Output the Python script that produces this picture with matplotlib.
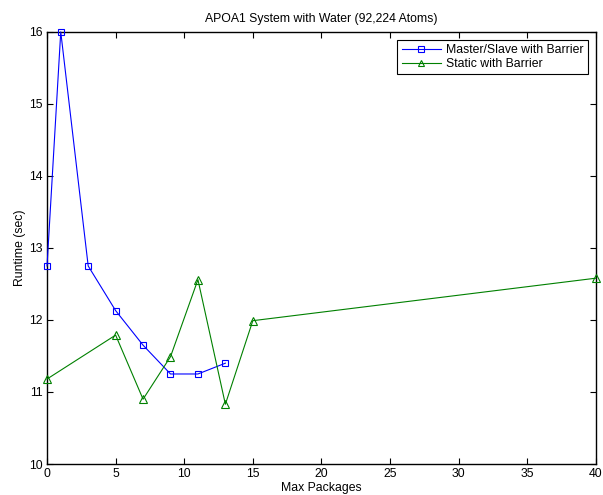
import matplotlib
matplotlib.use('Agg')
import matplotlib.pyplot as plt

plt.rcParams['font.family'] = ['Liberation Sans', 'DejaVu Sans']
fs = 8.8

# Data
ms_x = [0, 1, 3, 5, 7, 9, 11, 13]
ms_y = [12.75, 16.0, 12.75, 12.13, 11.65, 11.25, 11.25, 11.40]
st_x = [0, 5, 7, 9, 11, 13, 15, 40]
st_y = [11.18, 11.79, 10.90, 11.49, 12.56, 10.83, 11.99, 12.58]

fig = plt.figure(figsize=(6.03, 4.95), dpi=100)
ax = fig.add_axes([0.078, 0.0626, 0.910, 0.873])

ax.plot(ms_x, ms_y, color='blue', lw=0.8, marker='s', ms=5, clip_on=False,
        mfc='none', mec='blue', mew=0.8, label='Master/Slave with Barrier', zorder=3)
ax.plot(st_x, st_y, color='green', lw=0.8, marker='^', ms=6, clip_on=False,
        mfc='none', mec='green', mew=0.8, label='Static with Barrier', zorder=3)

ax.set_xlim(0, 40)
ax.set_ylim(10, 16)
ax.set_xticks(range(0, 41, 5))
ax.set_yticks(range(10, 17))
ax.tick_params(direction='in', top=True, right=True, length=4, width=0.8,
               labelsize=fs, pad=3)
for s in ax.spines.values():
    s.set_linewidth(1.0)

ax.set_title('APOA1 System with Water (92,224 Atoms)', fontsize=fs, pad=7)
ax.set_xlabel('Max Packages', fontsize=fs, labelpad=1)
ax.set_ylabel('Runtime (sec)', fontsize=fs, labelpad=2)

leg = ax.legend(loc='upper right', bbox_to_anchor=(0.985, 0.981), fontsize=fs,
                fancybox=False, framealpha=1, edgecolor='black', borderpad=0.35,
                handlelength=3.2, handletextpad=0.4, labelspacing=0.12,
                borderaxespad=0, markerscale=0.8)
leg.get_frame().set_linewidth(0.8)

plt.savefig('out.png', dpi=100)
